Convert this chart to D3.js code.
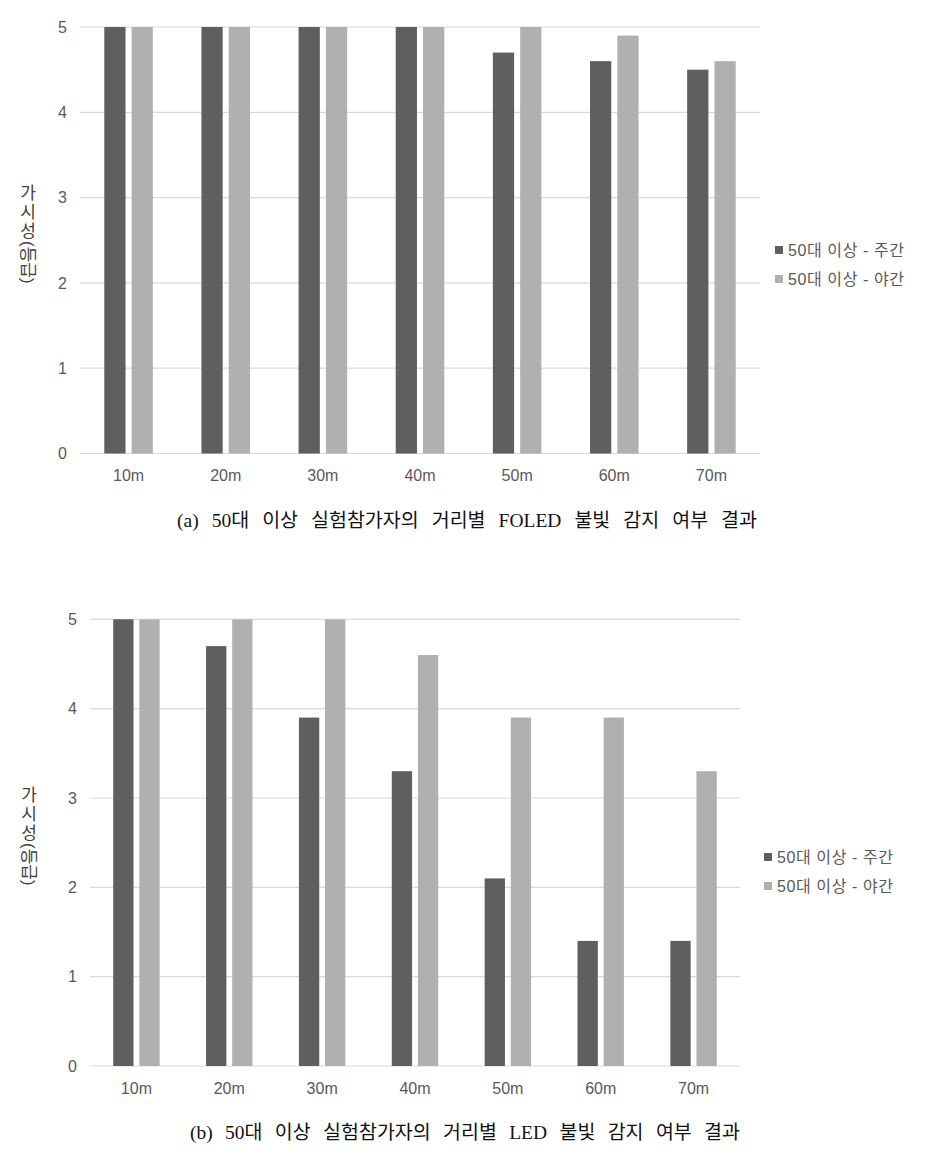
<!DOCTYPE html>
<html><head><meta charset="utf-8">
<script src="https://cdn.jsdelivr.net/npm/d3@7"></script>
<style>body{margin:0;background:#fff;} svg{display:block;}</style>
</head><body>
<svg id="c" width="942" height="1159"></svg>
<script>
const categories = ["10m","20m","30m","40m","50m","60m","70m"];
const seriesNames = ["50대 이상 - 주간","50대 이상 - 야간"];
const foledDay   = [5, 5, 5, 5, 4.7, 4.6, 4.5];
const foledNight = [5, 5, 5, 5, 5, 4.9, 4.6];
const ledDay     = [5, 4.7, 3.9, 3.3, 2.1, 1.4, 1.4];
const ledNight   = [5, 5, 5, 4.6, 3.9, 3.9, 3.3];
const yTicks = [0,1,2,3,4,5];
const captionA = "(a) 50대 이상 실험참가자의 거리별 FOLED 불빛 감지 여부 결과";
const captionB = "(b) 50대 이상 실험참가자의 거리별 LED 불빛 감지 여부 결과";

const colors = ["#5f5f5f","#b0b0b0"];
const svg = d3.select("#c");
const sans = "'Liberation Sans','Noto Sans CJK KR',Arial,sans-serif";
const serif = "'Liberation Serif','Noto Sans CJK KR',serif";

function drawChart(cfg){
  const g = svg.append("g");
  const x = d3.scaleBand().domain(categories).range([cfg.x0,cfg.x1]).paddingInner(0.5).paddingOuter(0.25);
  const xs = d3.scaleBand().domain([0,1]).range([0,x.bandwidth()]).paddingInner(0.222);
  const y = d3.scaleLinear().domain([0,5]).range([cfg.yb,cfg.yt]);
  g.selectAll("line.grid").data(yTicks).join("line")
    .attr("x1",cfg.x0).attr("x2",cfg.x1)
    .attr("y1",d=>y(d)).attr("y2",d=>y(d))
    .attr("stroke","#d9d9d9").attr("stroke-width",1.2);
  g.selectAll("text.yt").data(yTicks).join("text")
    .attr("x",cfg.x0-13).attr("y",d=>y(d)).attr("dy","0.35em")
    .attr("text-anchor","end").attr("fill","#595959")
    .attr("font-family",sans).attr("font-size",16).text(d=>d);
  const data = categories.map((c,i)=>({c, v:[cfg.s1[i],cfg.s2[i]]}));
  const grp = g.selectAll("g.cat").data(data).join("g")
    .attr("transform",d=>`translate(${x(d.c)},0)`);
  grp.selectAll("rect").data(d=>d.v.map((v,k)=>({v,k}))).join("rect")
    .attr("x",d=>xs(d.k)).attr("width",xs.bandwidth())
    .attr("y",d=>y(d.v)).attr("height",d=>y(0)-y(d.v))
    .attr("fill",d=>colors[d.k]);
  g.selectAll("text.xt").data(categories).join("text")
    .attr("x",d=>x(d)+x.bandwidth()/2).attr("y",cfg.yb+22).attr("dy","0.35em")
    .attr("text-anchor","middle").attr("fill","#595959")
    .attr("font-family",sans).attr("font-size",16).text(d=>d);
  const t = g.append("g").attr("fill","#404040").attr("font-family",sans).attr("font-size",17);
  ["가","시","성"].forEach((ch,i)=>{
    t.append("text").attr("x",cfg.tx).attr("y",cfg.ty+i*19).attr("dy","0.35em")
      .attr("text-anchor","middle").text(ch);
  });
  t.append("text").attr("transform",`translate(${cfg.tx},${cfg.ty+3*19-9}) rotate(90)`)
    .attr("dy","0.35em").attr("text-anchor","start").text("(등급)");
  const lg = g.append("g");
  seriesNames.forEach((n,i)=>{
    const yy = cfg.ly + i*cfg.lgap;
    lg.append("rect").attr("x",cfg.lx).attr("y",yy-4).attr("width",8).attr("height",8).attr("fill",colors[i]);
    lg.append("text").attr("x",cfg.lx+13).attr("y",yy).attr("dy","0.35em")
      .attr("fill","#595959").attr("font-family",sans).attr("font-size",16)
      .attr("letter-spacing",0.6).text(n);
  });
  const cap = g.append("text").attr("x",cfg.cx0).attr("y",cfg.cy).attr("dy","0.35em")
    .attr("fill","#111").attr("font-family",serif).attr("font-size",19.5).text(cfg.caption);
  const w = cap.node().getComputedTextLength();
  const nsp = cfg.caption.split(" ").length-1;
  const extra = (cfg.cx1-cfg.cx0-w)/nsp;
  cap.attr("word-spacing", extra);
}

drawChart({x0:80,x1:760,yt:27,yb:453.5,s1:foledDay,s2:foledNight,tx:28,ty:193,
  lx:775,ly:250,lgap:29,cx0:177,cx1:757,cy:520,caption:captionA});
drawChart({x0:90,x1:740,yt:619.3,yb:1066,s1:ledDay,s2:ledNight,tx:29,ty:795,
  lx:764,ly:857,lgap:29,cx0:190,cx1:740,cy:1132,caption:captionB});
</script>
</body></html>
